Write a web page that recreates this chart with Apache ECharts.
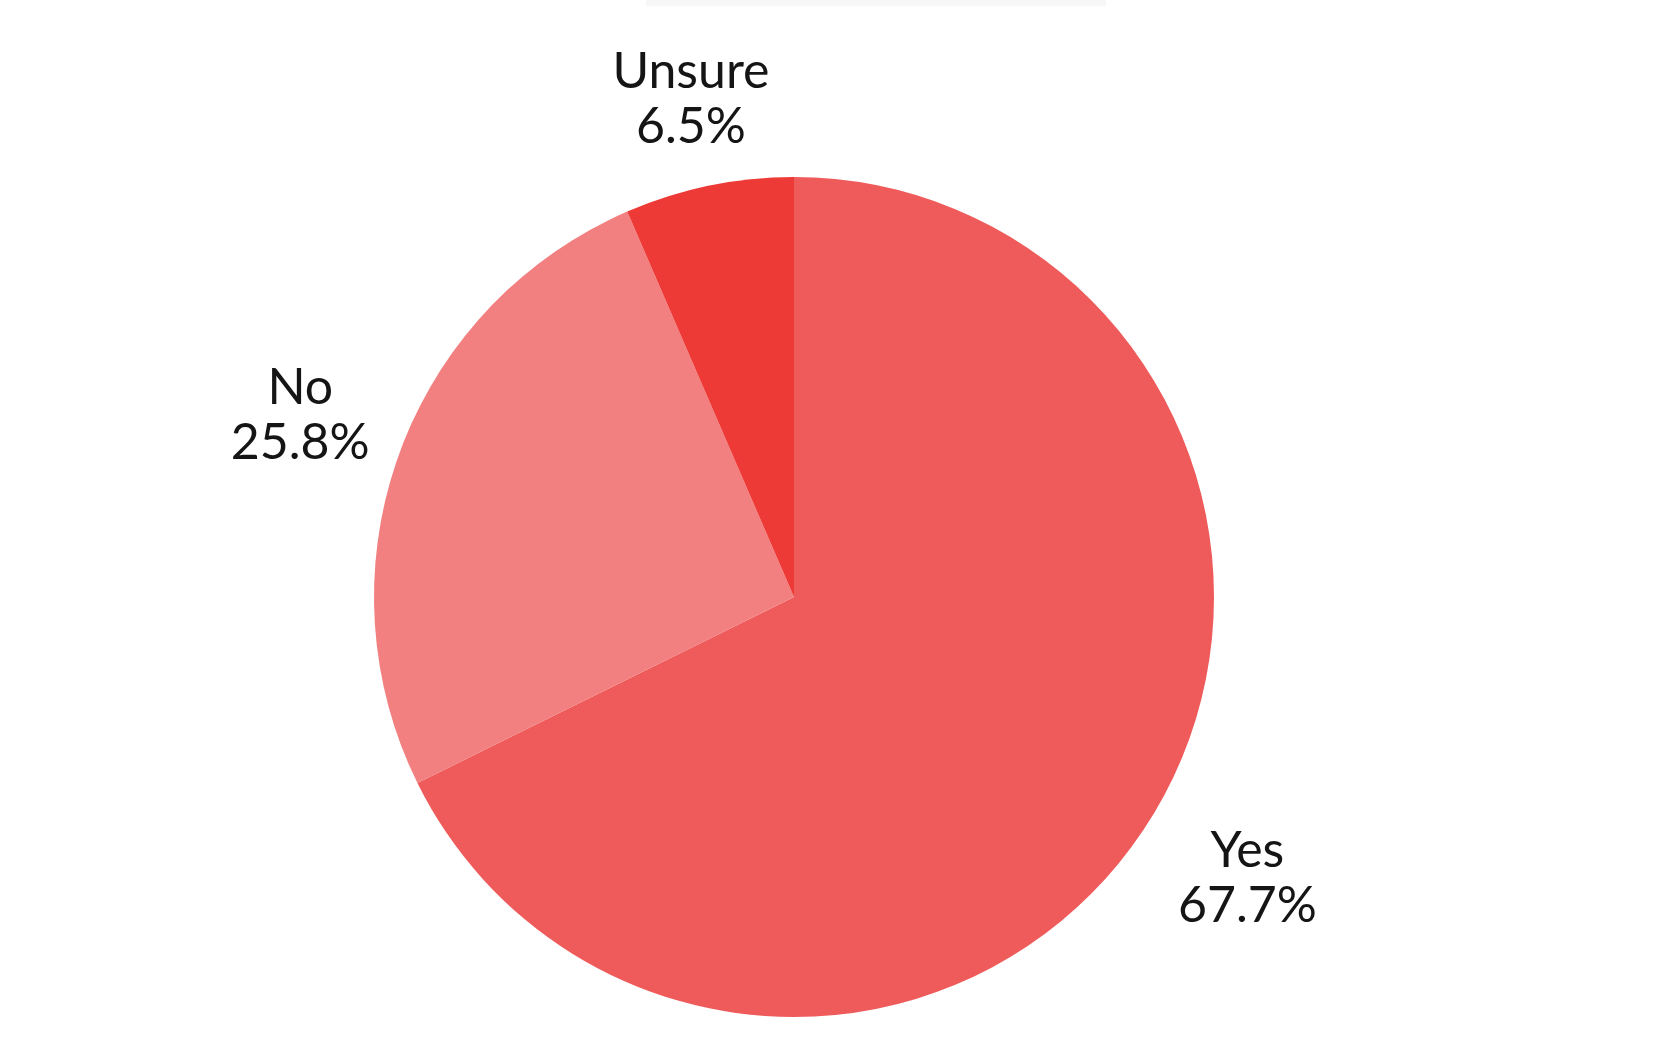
<!DOCTYPE html>
<html>
<head>
<meta charset="utf-8">
<title>Pie</title>
<script src="https://cdn.jsdelivr.net/npm/echarts@6/dist/echarts.min.js"></script>
<style>
  html, body { margin: 0; padding: 0; background: #fff; }
  #chart { width: 1656px; height: 1041px; }
</style>
</head>
<body>
<div id="chart"></div>
<script>
  // data
  const categories = ['Yes', 'No', 'Unsure'];
  const values = [67.7, 25.8, 6.5];
  const colors = ['#ef5b5b', '#f28080', '#ee3a36'];

  const cx = 794;
  const cy = 597;
  const radius = 420;
  const labelGap = 32; // space between the circle and the label box

  const total = values.reduce((a, b) => a + b, 0);

  // mid angle (clockwise from 12 o'clock) of each slice
  function midAngle(idx) {
    let before = 0;
    for (let i = 0; i < idx; i++) before += values[i];
    return ((before + values[idx] / 2) / total) * Math.PI * 2;
  }

  const chart = echarts.init(document.getElementById('chart'));
  chart.setOption({
    animation: false,
    graphic: [
      {
        type: 'rect',
        shape: { x: 646, y: 0, width: 460, height: 6 },
        style: { fill: '#f7f7f7' },
        silent: true,
      },
    ],
    series: [
      {
        type: 'pie',
        center: [cx, cy],
        radius: radius,
        startAngle: 90,
        clockwise: true,
        data: categories.map((name, i) => ({
          name: name,
          value: values[i],
          itemStyle: { color: colors[i] },
        })),
        label: {
          show: true,
          position: 'outside',
          formatter: '{b}\n{c}%',
          fontFamily: 'Lato',
          fontWeight: 400,
          fontSize: 50,
          lineHeight: 55,
          color: '#151515',
        },
        labelLine: { show: false },
        labelLayout: function (params) {
          const a = midAngle(params.dataIndex);
          const dx = Math.sin(a);
          const dy = -Math.cos(a);
          const hw = params.labelRect.width / 2;
          const hh = params.labelRect.height / 2;
          const edge = Math.min(
            Math.abs(dx) > 1e-6 ? hw / Math.abs(dx) : Infinity,
            Math.abs(dy) > 1e-6 ? hh / Math.abs(dy) : Infinity
          );
          const d = radius + labelGap + edge;
          return {
            x: cx + dx * d,
            y: cy + dy * d,
            align: 'center',
            verticalAlign: 'middle',
          };
        },
        emphasis: { disabled: true },
      },
    ],
  });
</script>
</body>
</html>
